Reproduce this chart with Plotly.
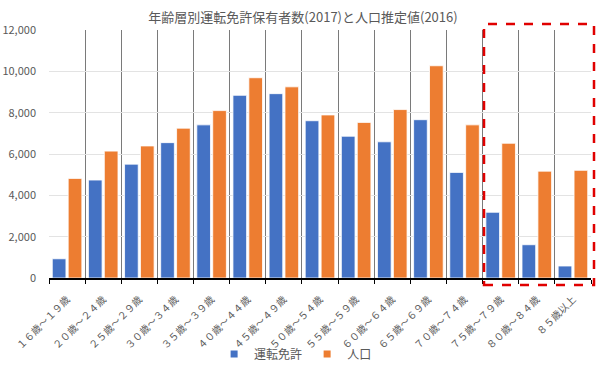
import plotly.graph_objects as go

categories = ["１６歳～１９歳", "２０歳～２４歳", "２５歳～２９歳", "３０歳～３４歳", "３５歳～３９歳",
              "４０歳～４４歳", "４５歳～４９歳", "５０歳～５４歳", "５５歳～５９歳", "６０歳～６４歳",
              "６５歳～６９歳", "７０歳～７４歳", "７５歳～７９歳", "８０歳～８４歳", "８５歳以上"]
license_holders = [930, 4740, 5510, 6550, 7410, 8840, 8920, 7610, 6860, 6590, 7660, 5110, 3180, 1610, 580]
population = [4820, 6140, 6390, 7250, 8100, 9690, 9250, 7890, 7530, 8150, 10270, 7410, 6520, 5170, 5210]
y_ticks = [0, 2000, 4000, 6000, 8000, 10000, 12000]

FONT = "Noto Sans CJK JP"
GRAY = "#595959"
BLUE = "#4472C4"
ORANGE = "#ED7D31"

fig = go.Figure()
fig.add_trace(go.Bar(x=categories, y=license_holders, name="運転免許", showlegend=False,
                     marker=dict(color=BLUE, line=dict(color="white", width=0.8))))
fig.add_trace(go.Bar(x=categories, y=population, name="人口", showlegend=False,
                     marker=dict(color=ORANGE, line=dict(color="white", width=0.8))))
# legend entries with small square keys
fig.add_trace(go.Scatter(x=[None], y=[None], mode="markers", name="運転免許",
                         marker=dict(symbol="square", size=7, color=BLUE)))
fig.add_trace(go.Scatter(x=[None], y=[None], mode="markers", name="人口",
                         marker=dict(symbol="square", size=7, color=ORANGE)))

fig.update_layout(
    width=600, height=369,
    margin=dict(l=49, r=9, t=30, b=91, autoexpand=False),
    paper_bgcolor="white", plot_bgcolor="white",
    font=dict(family=FONT, color=GRAY),
    barmode="group", bargap=0.12, bargroupgap=0.14,
    title=dict(text="年齢層別運転免許保有者数(2017)と人口推定値(2016)",
               x=0.505, xanchor="center", y=0.954, yanchor="middle",
               font=dict(family=FONT, size=13, color=GRAY)),
    legend=dict(orientation="h", x=0.455, xanchor="center", y=-0.306, yanchor="middle",
                font=dict(family=FONT, size=12, color=GRAY), itemwidth=30,
                bgcolor="rgba(0,0,0,0)"),
    xaxis=dict(type="category", tickson="boundaries", showgrid=True, gridcolor="#7a7a7a",
               gridwidth=1, showline=True, linecolor="black", linewidth=1.5,
               ticks="outside", ticklen=4, tickcolor="black", tickangle=-45,
               ticklabelstandoff=10, automargin=False,
               tickfont=dict(family=FONT, size=10, color=GRAY)),
    yaxis=dict(range=[0, 12000], tickvals=y_ticks, tickformat=",d",
               showgrid=True, gridcolor="#e3e3e3", gridwidth=1, zeroline=False,
               showline=False, ticks="", ticklabelstandoff=12, automargin=False,
               tickfont=dict(family=FONT, size=11, color=GRAY)),
)

# red dashed highlight box around the 75+ age groups
fig.add_shape(type="rect", xref="paper", yref="paper",
              x0=(484 - 49) / 542, x1=(594 - 49) / 542,
              y0=-(285 - 278) / 248, y1=1 + (30 - 24) / 248,
              line=dict(color="#e00000", width=2.5, dash="dash"),
              fillcolor="rgba(0,0,0,0)")

fig.write_html("out.html", config={"displayModeBar": False},
               post_script="document.body.style.margin='0';")
